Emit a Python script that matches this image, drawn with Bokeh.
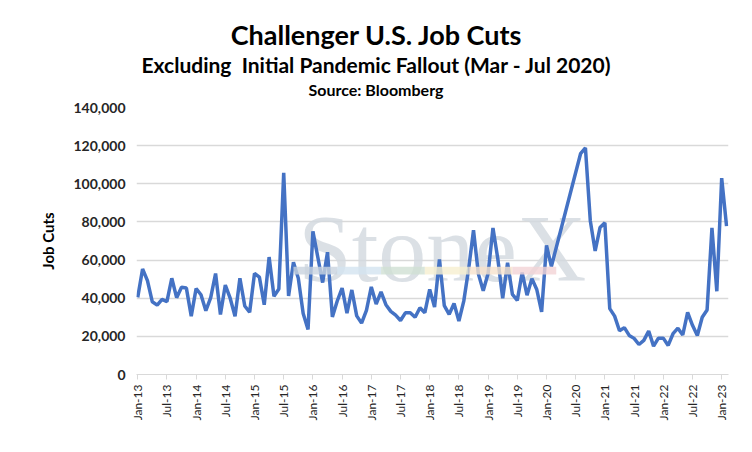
import math
from bokeh.plotting import figure
from bokeh.models import ColumnDataSource, FixedTicker, NumeralTickFormatter, BoxAnnotation, Div
from bokeh.layouts import column
from bokeh.core.properties import value
from bokeh.embed import file_html
from bokeh.resources import INLINE

start_year = 2013
job_cuts = [
    # 2013
    40430, 55356, 49255, 38121, 36398, 39372, 38259, 50462, 40289, 45730, 45314, 30623,
    # 2014
    45107, 41835, 33453, 40298, 52961, 31434, 46887, 40010, 30477, 50462, 35940, 32640,
    # 2015
    53041, 51034, 36594, 61582, 41034, 44842, 105696, 41186, 58877, 50504, 32010, 23622,
    # 2016
    75114, 61599, 48207, 64141, 30157, 38536, 45346, 32188, 44324, 30740, 26936, 33627,
    # 2017
    45934, 36957, 43310, 36602, 33092, 31105, 28307, 32337, 32346, 30012, 35038, 32423,
    # 2018
    44653, 35369, 60357, 36081, 31517, 37202, 28067, 38472, 55285, 75644, 52762, 43884,
    # 2019
    52988, 76835, 60587, 40023, 58577, 41977, 38845, 53480, 41557, 50275, 44569, 32843,
    # 2020 (Mar-Jul excluded)
    67735, 56660, None, None, None, None, None, 115762, 118804, 80666, 64797, 77030,
    # 2021
    79552, 34531, 30603, 22913, 24586, 20476, 18942, 15723, 17895, 22822, 14875, 19052,
    # 2022
    19064, 15245, 21387, 24286, 20712, 32517, 25810, 20485, 29989, 33843, 76835, 43651,
    # 2023
    102943, 77770,
]
month_names = ["Jan", "Feb", "Mar", "Apr", "May", "Jun", "Jul", "Aug", "Sep", "Oct", "Nov", "Dec"]
labels = [f"{month_names[i % 12]}-{(start_year + i // 12) % 100:02d}" for i in range(len(job_cuts))]
title_lines = ["Challenger U.S. Job Cuts",
               "Excluding&nbsp; Initial Pandemic Fallout (Mar - Jul 2020)",
               "Source: Bloomberg"]

xs = [i for i, v in enumerate(job_cuts) if v is not None]
ys = [v for v in job_cuts if v is not None]
src = ColumnDataSource(dict(x=xs, y=ys))

font = "Lato"
HEAD = 100
p = figure(width=736, height=436 - HEAD, output_backend="svg", toolbar_location=None,
           x_range=(-0.25, 121.4), y_range=(0, 140000),
           min_border_left=136, min_border_right=8, min_border_bottom=62, min_border_top=7)
p.outline_line_color = None
p.border_fill_color = "white"

# watermark
p.text(x=[33], y=[66000], text=["StoneX"], text_font=value("Liberation Serif"),
       text_font_size="96px", text_color="#d2d8df", text_alpha=0.8, text_baseline="alphabetic")
wm_cols = ["#c9d3df", "#d3e4f0", "#cfe0d3", "#f6efcf", "#f7e2cc", "#f2d3d6"]
for k, c in enumerate(wm_cols):
    p.add_layout(BoxAnnotation(left=32 + k * 9, right=32 + (k + 1) * 9, bottom=52500, top=56500,
                               fill_color=c, fill_alpha=0.8, line_color=None))

p.line("x", "y", source=src, line_color="#4472c4", line_width=3.5)

p.xaxis.ticker = FixedTicker(ticks=list(range(0, len(job_cuts), 6)))
p.xaxis.major_label_overrides = {i: labels[i] for i in range(0, len(job_cuts), 6)}
p.xaxis.major_label_orientation = math.pi / 2
p.xaxis.major_label_text_font = font
p.xaxis.major_label_text_font_size = "12px"
p.xaxis.major_label_text_color = "#262626"
p.xaxis.axis_line_color = "#d9d9d9"
p.xaxis.major_tick_line_color = "#d9d9d9"
p.xaxis.major_tick_in = 0
p.xaxis.major_tick_out = 5
p.xaxis.minor_tick_line_color = None
p.xgrid.grid_line_color = None

p.yaxis.ticker = FixedTicker(ticks=list(range(0, 140001, 20000)))
p.yaxis.formatter = NumeralTickFormatter(format="0,0")
p.yaxis.major_label_text_font = font
p.yaxis.major_label_text_font_style = "bold"
p.yaxis.major_label_text_font_size = "14px"
p.yaxis.major_label_text_color = "#262626"
p.yaxis.axis_line_color = None
p.yaxis.major_tick_line_color = None
p.yaxis.minor_tick_line_color = None
p.yaxis.axis_label = "Job Cuts"
p.yaxis.axis_label_text_font = font
p.yaxis.axis_label_text_font_style = "bold"
p.yaxis.axis_label_text_font_size = "15px"
p.yaxis.axis_label_text_color = "#000000"
p.yaxis.axis_label_standoff = 14
p.ygrid.grid_line_color = "#d9d9d9"
p.ygrid.grid_line_width = 1.5

sizes = [27, 21, 16]
centers = [35, 65, 90]
parts = []
for txt, sz, cy in zip(title_lines, sizes, centers):
    parts.append(f'<div style="position:absolute;left:8px;width:736px;top:{cy - sz * 0.55:.0f}px;'
                 f'line-height:{sz * 1.1:.0f}px;font-size:{sz}px;font-weight:bold;'
                 f'font-family:{font};text-align:center;color:#000;">{txt}</div>')
head = Div(text=f'<div style="position:relative;width:736px;height:{HEAD}px;">' + "".join(parts) + "</div>",
           width=736, height=HEAD, margin=(0, 0, 0, 0))

layout = column(head, p, spacing=0)
open("out.html", "w").write(file_html(layout, INLINE))
